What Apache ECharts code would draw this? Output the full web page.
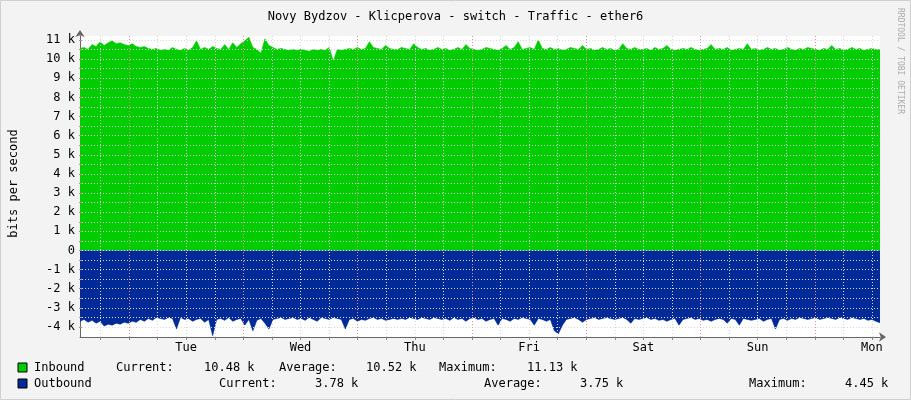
<!DOCTYPE html>
<html><head><meta charset="utf-8">
<script src="https://cdn.jsdelivr.net/npm/echarts@6/dist/echarts.min.js"></script>
<style>html,body{margin:0;padding:0;background:#f3f3f3}#c{width:911px;height:400px}</style>
</head><body><div id="c"></div>
<script>
const dayLabels = ['Tue','Wed','Thu','Fri','Sat','Sun','Mon'];
const inbound = [
10.55,10.6,10.5,10.75,10.65,10.9,10.7,10.85,10.95,10.8,10.85,10.75,10.7,10.8,10.65,10.6,10.65,10.55,10.5,10.55,
10.45,10.5,10.45,10.6,10.5,10.45,10.55,10.45,10.6,10.95,10.5,10.6,10.5,10.65,10.55,10.5,10.75,10.5,10.85,10.6,
10.8,10.95,11.13,10.6,10.5,10.3,11.05,10.7,10.6,10.5,10.55,10.5,10.45,10.5,10.45,10.5,10.45,10.4,10.5,10.45,
10.5,10.45,10.6,9.9,10.5,10.45,10.5,10.55,10.5,10.6,10.5,10.55,10.9,10.6,10.55,10.5,10.7,10.55,10.5,10.5,
10.6,10.55,10.5,10.8,10.6,10.5,10.55,10.45,10.5,10.6,10.5,10.55,10.45,10.5,10.6,10.5,10.75,10.55,10.5,10.45,
10.5,10.6,10.55,10.5,10.45,10.55,10.7,10.5,10.6,10.9,10.5,10.55,10.6,10.5,11.0,10.55,10.5,10.6,10.5,10.55,
10.45,10.5,10.6,10.55,10.5,10.7,10.5,10.55,10.45,10.5,10.6,10.5,10.55,10.45,10.5,10.8,10.55,10.5,10.6,10.5,
10.5,10.55,10.45,10.6,10.5,10.55,10.7,10.5,10.45,10.5,10.55,10.5,10.6,10.5,10.45,10.5,10.55,10.75,10.5,10.55,
10.5,10.6,10.45,10.5,10.55,10.5,10.8,10.5,10.55,10.45,10.5,10.6,10.5,10.55,10.45,10.5,10.6,10.5,10.45,10.55,
10.5,10.6,10.55,10.5,10.45,10.55,10.5,10.7,10.5,10.55,10.45,10.5,10.6,10.5,10.55,10.45,10.5,10.55,10.5,10.48];
const outbound = [
-3.7,-3.6,-3.75,-3.65,-3.8,-3.7,-3.95,-3.85,-3.9,-3.8,-3.85,-3.75,-3.8,-3.7,-3.75,-3.6,-3.7,-3.55,-3.65,-3.5,
-3.55,-3.6,-3.5,-3.55,-4.1,-3.5,-3.6,-3.55,-3.7,-3.6,-3.55,-3.75,-3.6,-4.45,-3.6,-3.55,-3.65,-3.5,-3.7,-3.6,
-3.55,-3.9,-3.6,-4.2,-3.65,-3.55,-3.8,-4.1,-3.6,-3.55,-3.5,-3.6,-3.55,-3.5,-3.6,-3.55,-3.65,-3.5,-3.6,-3.7,
-3.5,-3.55,-3.6,-3.5,-3.55,-3.6,-4.1,-3.6,-3.55,-3.7,-3.6,-3.65,-3.55,-3.5,-3.6,-3.55,-3.65,-3.6,-3.55,-3.6,
-3.55,-3.6,-3.5,-3.55,-3.6,-3.5,-3.55,-3.6,-3.5,-3.55,-3.6,-3.55,-3.65,-3.5,-3.6,-3.55,-3.7,-3.55,-3.5,-3.6,
-3.55,-3.7,-3.6,-3.55,-3.9,-3.55,-3.6,-3.7,-3.55,-3.6,-3.5,-3.55,-3.6,-3.9,-3.55,-3.6,-3.7,-3.6,-4.2,-4.35,
-3.9,-3.6,-3.55,-3.5,-3.6,-3.75,-3.6,-3.55,-3.5,-3.6,-3.55,-3.5,-3.55,-3.6,-3.55,-3.5,-3.6,-3.8,-3.55,-3.6,
-3.55,-3.5,-3.6,-3.55,-3.65,-3.6,-3.7,-3.6,-3.55,-3.9,-3.6,-3.55,-3.5,-3.6,-3.55,-3.65,-3.6,-3.7,-3.6,-3.55,
-3.6,-3.8,-3.55,-3.6,-3.9,-3.55,-3.6,-3.65,-3.6,-3.55,-3.7,-3.6,-3.55,-4.1,-3.6,-3.55,-3.65,-3.55,-3.6,-3.5,
-3.55,-3.6,-3.55,-3.5,-3.6,-3.55,-3.5,-3.55,-3.6,-3.5,-3.55,-3.6,-3.5,-3.55,-3.6,-3.55,-3.65,-3.6,-3.7,-3.78];
const samples = inbound.map((_, i) => String(i));
const mono = 'DejaVu Sans Mono';
const chart = echarts.init(document.getElementById('c'));
const t = (x, y, s, extra) => Object.assign({type:'text', x, y, style:Object.assign({text:s, font:'12px "DejaVu Sans Mono"', fill:'#000', textVerticalAlign:'middle'}, extra||{})});
chart.setOption({
  backgroundColor:'#f3f3f3', animation:false,
  title:{text:'Novy Bydzov - Klicperova - switch - Traffic - ether6', left:'center', top:6, textStyle:{fontFamily:mono, fontSize:12, fontWeight:'normal', color:'#000'}},
  grid:[
    {left:80, width:800, top:36, height:301, backgroundColor:'#fff', show:true, borderWidth:0},
    {left:100.5, width:771.4, top:36, height:301, show:false},
    {left:80, width:800, top:40, height:287, show:false}
  ],
  xAxis:[
    {gridIndex:0, type:'category', data:samples, boundaryGap:false, axisLabel:{show:false}, axisTick:{show:false}, splitLine:{show:false},
     axisLine:{onZero:false, lineStyle:{color:'#666', width:1}, symbol:['none','arrow'], symbolSize:[7,7], symbolOffset:[0,6]}},
    {gridIndex:1, type:'value', min:-6, max:156, interval:6, z:5,
     axisLine:{show:false}, axisTick:{show:true, length:3, inside:false, lineStyle:{color:'#888'}},
     splitLine:{show:true, lineStyle:{type:[1,2], width:1, color:['#d8d8d8','#e89090','#d8d8d8','#d8d8d8']}},
     axisLabel:{fontFamily:mono, fontSize:12, color:'#000', margin:5, showMinLabel:true, showMaxLabel:true,
       formatter:v => (((v-12)%24+24)%24===0 && v>=12) ? dayLabels[(v-12)/24] : ''}},
    {gridIndex:2, type:'value', min:0, max:1, show:false}
  ],
  yAxis:[
    {gridIndex:0, type:'value', min:-4.52, max:11.2, axisLabel:{show:false}, axisTick:{show:false}, splitLine:{show:false},
     axisLine:{show:true, lineStyle:{color:'#666'}, symbol:['none','arrow'], symbolSize:[7,7], symbolOffset:[0,6]}},
    {gridIndex:1, type:'value', min:0, max:1, show:false},
    {gridIndex:2, type:'value', min:-4, max:11, interval:0.5, z:5,
     name:'bits per second', nameLocation:'middle', nameGap:62, nameTextStyle:{fontFamily:mono, fontSize:12, color:'#000'},
     axisLine:{show:false}, axisTick:{show:true, length:3, lineStyle:{color:'#d08080'}},
     splitLine:{show:true, lineStyle:{type:[1,2], width:1, color:'#d8d8d8'}},
     axisLabel:{fontFamily:mono, fontSize:12, color:'#000', margin:7, formatter:v => Number.isInteger(v) ? (v===0?'0':v+' k') : ''}}
  ],
  series:[
    {type:'line', name:'Inbound', xAxisIndex:0, yAxisIndex:0, data:inbound, symbol:'none', z:2,
     lineStyle:{width:0.6, color:'#00cc00'}, areaStyle:{color:'#00cc00', opacity:1}, itemStyle:{color:'#00cc00'}},
    {type:'line', name:'Outbound', xAxisIndex:0, yAxisIndex:0, data:outbound, symbol:'none', z:2,
     lineStyle:{width:0.6, color:'#002a97'}, areaStyle:{color:'#002a97', opacity:1}, itemStyle:{color:'#002a97'}}
  ],
  graphic:[
    {type:'rect', shape:{x:0.5,y:0.5,width:910,height:399}, style:{fill:null, stroke:'#cfcfcf', lineWidth:1}, silent:true},
    {type:'rect', shape:{x:18,y:363,width:9,height:9}, style:{fill:'#00cc00', stroke:'#000', lineWidth:1}},
    {type:'rect', shape:{x:18,y:379,width:9,height:9}, style:{fill:'#002a97', stroke:'#000', lineWidth:1}},
    t(34,368,'Inbound'), t(116,368,'Current:'), t(204,368,'10.48 k'), t(279,368,'Average:'), t(366,368,'10.52 k'), t(439,368,'Maximum:'), t(527,368,'11.13 k'),
    t(34,384,'Outbound'), t(219,384,'Current:'), t(315,384,'3.78 k'), t(484,384,'Average:'), t(580,384,'3.75 k'), t(749,384,'Maximum:'), t(845,384,'4.45 k'),
    {type:'text', x:900, y:8, rotation:-Math.PI/2, style:{text:'RRDTOOL / TOBI OETIKER', font:'8px "DejaVu Sans Mono"', fill:'#aaaaaa', textVerticalAlign:'middle'}}
  ]
});
</script></body></html>
